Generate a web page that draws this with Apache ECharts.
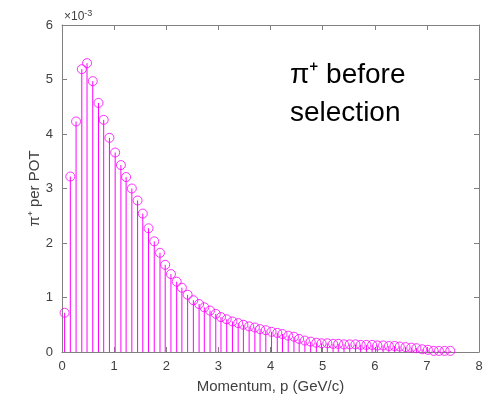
<!DOCTYPE html>
<html>
<head>
<meta charset="utf-8">
<script src="https://cdn.jsdelivr.net/npm/echarts@6/dist/echarts.min.js"></script>
<style>
  html, body { margin: 0; padding: 0; background: #fff; }
  #chart { width: 483px; height: 400px; }
</style>
</head>
<body>
<div id="chart"></div>
<script>
// momentum bin centres (GeV/c)
const momentum = [
  0.05, 0.16, 0.27, 0.38, 0.48, 0.59, 0.70, 0.80, 0.91, 1.02,
  1.13, 1.23, 1.34, 1.45, 1.55, 1.66, 1.77, 1.88, 1.98, 2.09,
  2.20, 2.30, 2.41, 2.52, 2.63, 2.73, 2.84, 2.95, 3.05, 3.16,
  3.27, 3.38, 3.48, 3.59, 3.70, 3.80, 3.91, 4.02, 4.13, 4.23,
  4.34, 4.45, 4.55, 4.66, 4.77, 4.88, 4.98, 5.09, 5.20, 5.30,
  5.41, 5.52, 5.63, 5.73, 5.84, 5.95, 6.05, 6.16, 6.27, 6.38,
  6.48, 6.59, 6.70, 6.80, 6.91, 7.02, 7.13, 7.23, 7.34, 7.45
];
// pi+ per POT, in units of 1e-3
const piPerPot = [
  0.72, 3.22, 4.23, 5.19, 5.30, 4.97, 4.57, 4.26, 3.93, 3.66,
  3.43, 3.21, 3.00, 2.78, 2.54, 2.27, 2.03, 1.82, 1.60, 1.43,
  1.29, 1.18, 1.05, 0.95, 0.88, 0.82, 0.76, 0.70, 0.64, 0.60,
  0.56, 0.53, 0.50, 0.47, 0.45, 0.42, 0.40, 0.37, 0.35, 0.33,
  0.30, 0.28, 0.24, 0.21, 0.19, 0.17, 0.16, 0.16, 0.15, 0.15,
  0.14, 0.14, 0.14, 0.13, 0.13, 0.13, 0.12, 0.12, 0.11, 0.11,
  0.10, 0.09, 0.08, 0.07, 0.05, 0.04, 0.02, 0.02, 0.02, 0.02
];
const xTicks = [0, 1, 2, 3, 4, 5, 6, 7, 8];
const yTicks = [0, 1, 2, 3, 4, 5, 6];

const points = momentum.map((x, i) => [x, piPerPot[i]]);

const magenta = '#ff00ff';
const axisGrey = '#808080';
const textGrey = '#404040';
const font = 'Liberation Sans, Arial, sans-serif';

function boxAxis(type, pos, ticks, showLabels) {
  return {
    type: 'value',
    position: pos,
    min: ticks[0],
    max: ticks[ticks.length - 1],
    interval: 1,
    axisLine: { show: true, onZero: false, lineStyle: { color: axisGrey, width: 1 } },
    axisTick: { show: true, inside: true, length: 5, lineStyle: { color: axisGrey } },
    axisLabel: {
      show: showLabels, color: textGrey, fontSize: 13, fontFamily: font,
      margin: type === 'x' ? 8 : 9
    },
    splitLine: { show: false }
  };
}

const myChart = echarts.init(document.getElementById('chart'));

const xMain = boxAxis('x', 'bottom', xTicks, true);
xMain.name = 'Momentum, p (GeV/c)';
xMain.nameLocation = 'middle';
xMain.nameGap = 27;
xMain.nameTextStyle = { color: textGrey, fontSize: 15, fontFamily: font };

const yMain = boxAxis('y', 'left', yTicks, true);
yMain.name = 'π⁺ per POT';
yMain.nameLocation = 'middle';
yMain.nameGap = 20;
yMain.nameMoveOverlap = false;
yMain.nameTextStyle = { color: textGrey, fontSize: 15, fontFamily: font };

const option = {
  backgroundColor: '#fff',
  animation: false,
  grid: { left: 62, right: 4, top: 25, bottom: 48, containLabel: false, outerBoundsMode: 'none' },
  xAxis: [xMain, boxAxis('x', 'top', xTicks, false)],
  yAxis: [yMain, boxAxis('y', 'right', yTicks, false)],
  graphic: [
    {
      type: 'text', left: 64, top: 9,
      style: {
        text: '{a|×10}{b|-3}',
        rich: {
          a: { fontSize: 12, fill: textGrey, fontFamily: font },
          b: { fontSize: 9, fill: textGrey, fontFamily: font, verticalAlign: 'top', padding: [0, 0, 6, 0] }
        }
      }
    },
    {
      type: 'text', left: 290, top: 56,
      style: {
        text: 'π⁺ before\nselection',
        fontSize: 28, lineHeight: 38, fill: '#000', fontFamily: font
      }
    }
  ],
  series: [
    {
      type: 'custom',
      data: points,
      silent: true,
      renderItem: function (params, api) {
        const top = api.coord([api.value(0), api.value(1)]);
        const base = api.coord([api.value(0), 0]);
        return {
          type: 'line',
          shape: { x1: top[0], y1: top[1], x2: base[0], y2: base[1] },
          style: { stroke: magenta, lineWidth: 1 }
        };
      }
    },
    {
      type: 'scatter',
      data: points,
      symbol: 'circle',
      symbolSize: 9,
      itemStyle: { color: 'rgba(0,0,0,0)', borderColor: magenta, borderWidth: 1 }
    }
  ]
};

myChart.setOption(option);
</script>
</body>
</html>
